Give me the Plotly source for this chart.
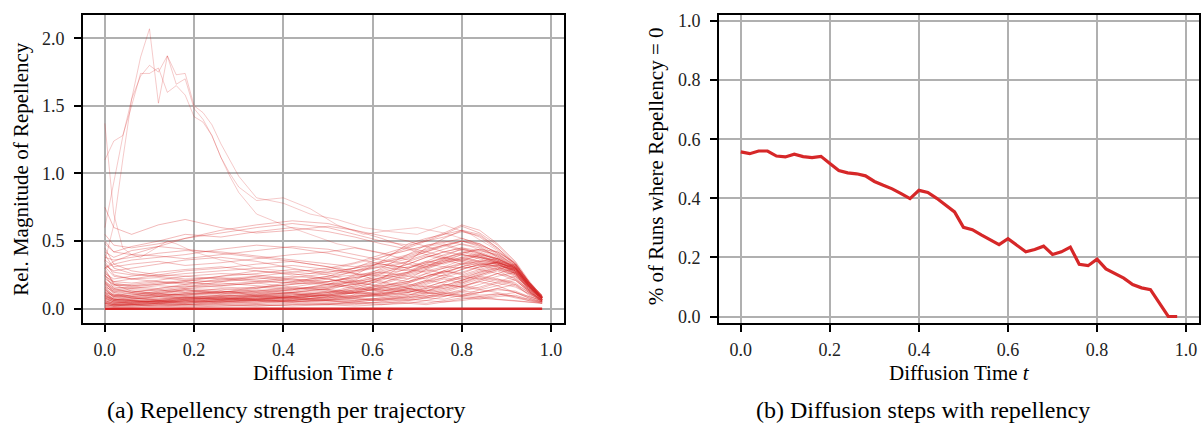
import plotly.graph_objects as go

# ---------------- data ----------------
# (a) per-trajectory repellency magnitude, sampled at these diffusion times
T_RUN = [0.0, 0.02, 0.06, 0.12, 0.18, 0.26, 0.34, 0.42, 0.50, 0.56,
         0.62, 0.68, 0.72, 0.76, 0.80, 0.84, 0.88, 0.92, 0.95, 0.98]

LOW_RUNS = [
    [.05, .03, .03, .04, .05, .05, .06, .05, .06, .07, .06, .08, .10, .09, .12, .10, .11, .09, .07, .05],
    [.10, .06, .05, .06, .07, .08, .07, .09, .08, .10, .12, .15, .13, .18, .16, .20, .17, .12, .09, .06],
    [.15, .08, .07, .08, .09, .08, .10, .11, .09, .07, .06, .09, .12, .11, .14, .18, .22, .19, .12, .07],
    [.03, .02, .02, .03, .03, .04, .04, .05, .04, .05, .07, .06, .08, .10, .09, .12, .14, .13, .09, .06],
    [.20, .12, .09, .10, .11, .10, .09, .08, .10, .13, .11, .14, .18, .22, .19, .24, .28, .22, .14, .08],
    [.08, .05, .04, .04, .03, .04, .05, .07, .06, .04, .05, .07, .06, .09, .13, .16, .20, .24, .16, .08],
    [.12, .07, .06, .05, .06, .07, .06, .05, .07, .09, .12, .10, .14, .12, .16, .21, .26, .30, .18, .09],
    [.06, .04, .05, .06, .08, .07, .09, .10, .12, .11, .13, .16, .20, .25, .22, .27, .31, .26, .15, .07],
    [.25, .15, .12, .10, .08, .07, .06, .06, .05, .06, .08, .07, .09, .11, .10, .14, .17, .21, .13, .06],
    [.04, .03, .03, .02, .03, .03, .02, .03, .04, .03, .05, .04, .06, .05, .07, .09, .11, .08, .06, .04],
    [.18, .11, .08, .07, .08, .09, .11, .12, .10, .09, .10, .12, .15, .17, .21, .25, .29, .33, .20, .10],
    [.09, .06, .07, .09, .11, .12, .10, .08, .07, .09, .11, .14, .12, .15, .18, .22, .19, .16, .11, .06],
    [.30, .18, .13, .11, .10, .09, .08, .09, .11, .14, .17, .20, .24, .28, .25, .29, .33, .28, .17, .08],
    [.02, .02, .03, .03, .04, .06, .08, .10, .12, .15, .13, .17, .21, .19, .23, .27, .30, .25, .15, .07],
    [.14, .09, .10, .12, .14, .13, .12, .11, .13, .12, .15, .18, .16, .20, .24, .28, .32, .29, .18, .09],
    [.07, .05, .04, .05, .04, .05, .06, .05, .07, .08, .07, .09, .08, .11, .13, .12, .15, .12, .08, .05],
    [.11, .07, .06, .07, .09, .08, .07, .09, .10, .08, .10, .13, .17, .15, .19, .23, .21, .17, .11, .06],
    [.02, .01, .01, .02, .02, .02, .03, .02, .03, .04, .03, .05, .04, .06, .08, .07, .09, .10, .07, .04],
    [.16, .10, .08, .06, .05, .06, .07, .08, .06, .05, .07, .10, .13, .16, .20, .24, .22, .18, .12, .06],
    [.05, .03, .03, .04, .05, .07, .09, .08, .10, .12, .15, .19, .23, .27, .31, .29, .26, .21, .13, .06],
    [.09, .07, .08, .10, .12, .11, .13, .15, .14, .12, .10, .08, .11, .14, .17, .20, .24, .27, .16, .07],
    [.04, .02, .02, .02, .01, .02, .02, .03, .03, .02, .03, .04, .03, .05, .06, .08, .10, .12, .08, .05],
    [.02, .02, .02, .03, .02, .03, .03, .04, .03, .05, .04, .06, .08, .07, .10, .12, .15, .18, .10, .05],
    [.08, .05, .05, .06, .05, .07, .06, .08, .07, .06, .08, .11, .09, .13, .17, .15, .19, .22, .12, .05],
    [.10, .07, .06, .05, .06, .08, .07, .06, .08, .10, .09, .12, .16, .20, .24, .22, .26, .23, .13, .05],
    [.06, .04, .04, .05, .04, .06, .05, .07, .06, .08, .11, .15, .13, .17, .21, .25, .29, .25, .14, .06],
    [.04, .03, .03, .04, .06, .05, .07, .06, .09, .12, .10, .15, .19, .23, .21, .26, .30, .26, .14, .06],
]

MID_RUNS = [
    [.22, .18, .17, .19, .21, .20, .22, .24, .22, .19, .17, .20, .24, .27, .31, .34, .33, .27, .17, .08],
    [.35, .25, .22, .20, .18, .19, .17, .15, .16, .18, .22, .26, .30, .34, .37, .35, .33, .26, .16, .07],
    [.28, .20, .19, .21, .24, .26, .25, .22, .19, .16, .14, .17, .21, .25, .29, .33, .34, .30, .19, .09],
    [.18, .14, .15, .17, .16, .18, .20, .19, .23, .25, .27, .24, .28, .31, .30, .32, .34, .31, .20, .10],
    [.40, .30, .26, .24, .22, .23, .21, .19, .18, .20, .23, .27, .32, .36, .40, .38, .35, .28, .17, .08],
    [.12, .10, .12, .15, .18, .22, .24, .21, .18, .15, .13, .16, .20, .23, .27, .31, .32, .29, .18, .08],
    [.26, .22, .24, .27, .29, .31, .28, .25, .27, .30, .33, .30, .34, .37, .35, .33, .32, .28, .18, .09],
    [.33, .27, .25, .24, .26, .28, .30, .32, .29, .26, .24, .27, .31, .35, .38, .41, .36, .28, .17, .07],
    [.16, .13, .14, .13, .15, .14, .16, .18, .20, .23, .26, .29, .27, .30, .33, .35, .34, .30, .19, .09],
    [.45, .33, .28, .25, .24, .22, .20, .23, .26, .28, .31, .35, .39, .37, .41, .44, .39, .30, .18, .08],
    [.24, .20, .22, .25, .28, .30, .33, .35, .31, .26, .20, .15, .12, .10, .09, .08, .07, .06, .05, .04],
    [.32, .28, .30, .33, .36, .38, .35, .30, .25, .20, .16, .13, .11, .12, .10, .09, .07, .06, .05, .04],
    [.19, .15, .16, .18, .20, .24, .28, .26, .22, .18, .14, .12, .15, .18, .16, .14, .12, .09, .06, .05],
    [.13, .09, .08, .09, .08, .10, .09, .11, .08, .12, .18, .24, .22, .28, .33, .30, .35, .27, .15, .07],
    [.21, .14, .12, .14, .12, .15, .13, .16, .14, .19, .25, .22, .29, .34, .38, .35, .37, .29, .16, .07],
    [.17, .12, .13, .11, .14, .12, .16, .14, .18, .22, .28, .33, .30, .35, .40, .37, .33, .28, .16, .08],
    [.11, .08, .09, .11, .10, .13, .11, .14, .17, .21, .19, .25, .29, .26, .31, .36, .34, .30, .17, .07],
    [.27, .19, .17, .18, .20, .17, .19, .22, .20, .24, .29, .35, .31, .37, .42, .38, .34, .29, .16, .07],
    [.14, .10, .11, .09, .11, .13, .10, .12, .15, .18, .23, .20, .26, .30, .34, .32, .29, .24, .13, .06],
    [.19, .13, .11, .12, .14, .11, .13, .12, .14, .13, .16, .19, .24, .28, .26, .31, .35, .32, .18, .08],
    [.23, .17, .18, .20, .19, .21, .23, .20, .24, .27, .31, .28, .33, .38, .35, .40, .37, .31, .17, .07],
    [.12, .09, .10, .13, .15, .17, .19, .16, .20, .23, .27, .31, .35, .33, .37, .40, .37, .31, .17, .08],
]

HIGH_RUNS = [
    [.38, .36, .38, .41, .43, .42, .39, .36, .33, .31, .35, .40, .44, .47, .43, .39, .35, .29, .18, .08],
    [.50, .42, .40, .39, .37, .40, .43, .46, .44, .40, .36, .33, .38, .42, .45, .41, .36, .29, .18, .08],
    [.30, .33, .36, .38, .40, .44, .47, .45, .41, .37, .33, .30, .35, .40, .44, .42, .37, .30, .19, .09],
    [.42, .38, .43, .46, .44, .41, .38, .35, .31, .28, .32, .37, .42, .47, .50, .46, .38, .30, .18, .08],
    [.36, .31, .33, .35, .32, .34, .37, .40, .42, .45, .41, .36, .40, .44, .48, .45, .39, .31, .19, .09],
    [.55, .47, .45, .48, .52, .56, .60, .63, .60, .55, .50, .47, .50, .55, .58, .53, .44, .32, .19, .08],
    [.30, .35, .40, .46, .52, .58, .62, .65, .63, .58, .52, .45, .42, .46, .50, .48, .41, .32, .19, .08],
    [.48, .42, .46, .50, .55, .53, .57, .60, .57, .53, .48, .44, .40, .38, .36, .34, .31, .26, .16, .07],
    [.75, .60, .55, .62, .66, .60, .56, .58, .61, .58, .54, .50, .46, .42, .40, .38, .34, .27, .17, .08],
    [.31, .24, .22, .23, .21, .24, .26, .29, .27, .30, .34, .38, .42, .39, .44, .41, .37, .30, .17, .07],
]

LATE_RUNS = [
    [.06, .04, .04, .05, .06, .05, .07, .08, .10, .14, .22, .35, .45, .52, .58, .55, .45, .33, .20, .08],
    [.10, .07, .06, .07, .08, .10, .12, .14, .18, .25, .35, .48, .52, .55, .61, .56, .47, .34, .20, .08],
    [.15, .10, .09, .11, .13, .12, .15, .20, .24, .30, .38, .45, .50, .53, .57, .54, .45, .33, .19, .07],
    [.04, .03, .04, .06, .07, .09, .10, .12, .15, .21, .30, .40, .47, .49, .52, .48, .41, .31, .18, .07],
    [.20, .16, .15, .14, .16, .20, .24, .27, .30, .34, .40, .46, .51, .56, .62, .58, .48, .35, .21, .09],
    [.08, .06, .07, .09, .10, .12, .14, .13, .16, .20, .26, .33, .38, .42, .45, .43, .40, .32, .19, .08],
    [.25, .18, .16, .15, .17, .16, .15, .18, .22, .28, .34, .39, .43, .47, .50, .47, .42, .33, .20, .09],
    [.05, .04, .05, .05, .07, .08, .07, .09, .12, .17, .23, .30, .34, .38, .41, .44, .42, .34, .20, .08],
    [.07, .05, .06, .05, .07, .06, .08, .07, .11, .16, .21, .27, .33, .31, .36, .39, .34, .26, .14, .06],
    [.03, .02, .03, .04, .03, .05, .04, .06, .09, .13, .19, .26, .31, .36, .33, .38, .36, .30, .17, .07],
    [.09, .06, .05, .06, .08, .07, .10, .09, .13, .11, .16, .22, .26, .24, .29, .33, .31, .27, .15, .06],
]

ZERO_RUN = [0.0] * len(T_RUN)

# the few runs with a strong early burst of repellency
T_BURST = [0.0, 0.02, 0.04, 0.06, 0.08, 0.10, 0.12, 0.14, 0.16, 0.18, 0.20, 0.22, 0.24, 0.26, 0.28,
           0.30, 0.34, 0.40, 0.46, 0.52, 0.58, 0.64, 0.70, 0.76, 0.82, 0.88, 0.92, 0.95, 0.98]
BURST_RUNS = [
    [0.35, 0.62, 1.10, 1.55, 1.86, 2.07, 1.52, 1.87, 1.66, 1.70, 1.48, 1.40, 1.28, 1.12, 0.98,
     0.86, 0.70, 0.62, 0.55, 0.48, 0.44, 0.40, 0.45, 0.50, 0.46, 0.38, 0.30, 0.19, 0.08],
    [1.10, 1.24, 1.28, 1.50, 1.74, 1.74, 1.78, 1.60, 1.65, 1.58, 1.42, 1.38, 1.28, 1.12, 1.00,
     0.90, 0.80, 0.82, 0.74, 0.62, 0.55, 0.58, 0.60, 0.56, 0.50, 0.40, 0.31, 0.19, 0.08],
    [0.60, 0.95, 1.27, 1.55, 1.72, 1.80, 1.75, 1.87, 1.73, 1.74, 1.50, 1.45, 1.36, 1.22, 1.10,
     0.98, 0.82, 0.78, 0.70, 0.66, 0.60, 0.57, 0.55, 0.62, 0.55, 0.43, 0.33, 0.20, 0.08],
    [1.37, 0.70, 0.45, 0.40, 0.38, 0.42, 0.46, 0.50, 0.48, 0.45, 0.42, 0.40, 0.38, 0.36, 0.35,
     0.33, 0.30, 0.28, 0.26, 0.30, 0.35, 0.40, 0.45, 0.48, 0.42, 0.35, 0.28, 0.17, 0.07],
]

# (b) share of runs with zero repellency at each diffusion step
T_STEP = [round(0.02 * i, 2) for i in range(50)]
ZERO_SHARE = [
    0.557, 0.551, 0.560, 0.560, 0.543, 0.540, 0.549, 0.541, 0.538, 0.542,
    0.518, 0.494, 0.486, 0.483, 0.476, 0.457, 0.444, 0.432, 0.416, 0.399,
    0.427, 0.420, 0.400, 0.378, 0.354, 0.302, 0.294, 0.276, 0.259, 0.243,
    0.263, 0.241, 0.219, 0.227, 0.238, 0.210, 0.219, 0.235, 0.177, 0.172,
    0.194, 0.161, 0.146, 0.130, 0.108, 0.097, 0.091, 0.047, 0.000, 0.000,
]

X_TICKS = [0.0, 0.2, 0.4, 0.6, 0.8, 1.0]
Y_TICKS_A = [0.0, 0.5, 1.0, 1.5, 2.0]
Y_TICKS_B = [0.0, 0.2, 0.4, 0.6, 0.8, 1.0]

# ---------------- figure ----------------
W, H = 1202, 430
RED = "#d62728"
RUN_COLOR = "rgba(214,39,40,0.36)"
BURST_COLOR = "rgba(214,39,40,0.28)"
FONT = "Liberation Serif, serif"


def px(x):
    return x / W


def py(y):
    return 1 - y / H


fig = go.Figure()

for runs, tt, col in ((LOW_RUNS, T_RUN, RUN_COLOR), (MID_RUNS, T_RUN, RUN_COLOR),
                      (HIGH_RUNS, T_RUN, RUN_COLOR), (LATE_RUNS, T_RUN, RUN_COLOR),
                      (BURST_RUNS, T_BURST, BURST_COLOR)):
    for r in runs:
        fig.add_trace(go.Scatter(x=tt, y=r, mode="lines", xaxis="x", yaxis="y",
                                 line=dict(color=col, width=0.9),
                                 showlegend=False, hoverinfo="skip"))

fig.add_trace(go.Scatter(x=T_RUN, y=ZERO_RUN, mode="lines", xaxis="x", yaxis="y",
                         line=dict(color=RED, width=2.6), showlegend=False))

fig.add_trace(go.Scatter(x=T_STEP, y=ZERO_SHARE, mode="lines", xaxis="x2", yaxis="y2",
                         line=dict(color=RED, width=3.2), showlegend=False))

axis_common = dict(
    showline=True, linecolor="black", linewidth=1.8, mirror=True,
    showgrid=True, gridcolor="#b0b0b0", gridwidth=1.6, zeroline=False,
    ticks="outside", ticklen=7, tickwidth=1.5, tickcolor="black",
    tickfont=dict(family=FONT, size=18, color="#222"),
)

fig.update_layout(
    width=W, height=H,
    margin=dict(l=0, r=0, t=0, b=0),
    paper_bgcolor="white", plot_bgcolor="white",
    font=dict(family=FONT, color="black"),
    xaxis=dict(domain=[px(83), px(564)], range=[-0.049, 1.029],
               tickvals=X_TICKS, ticktext=[f"{v:.1f}" for v in X_TICKS],
               anchor="y", ticklabelstandoff=3, **axis_common),
    yaxis=dict(domain=[py(325), py(12)], range=[-0.1035, 2.1735],
               tickvals=Y_TICKS_A, ticktext=[f"{v:.1f}" for v in Y_TICKS_A],
               anchor="x", ticklabelstandoff=6, **axis_common),
    xaxis2=dict(domain=[px(719), px(1199)], range=[-0.049, 1.029],
                tickvals=X_TICKS, ticktext=[f"{v:.1f}" for v in X_TICKS],
                anchor="y2", ticklabelstandoff=3, **axis_common),
    yaxis2=dict(domain=[py(325), py(12)], range=[-0.021, 1.021],
                tickvals=Y_TICKS_B, ticktext=[f"{v:.1f}" for v in Y_TICKS_B],
                anchor="x2", ticklabelstandoff=6, **axis_common),
)

labels = [
    dict(text="Diffusion Time <i>t</i>", x=px(323.5), y=py(376), size=21, angle=0),
    dict(text="Diffusion Time <i>t</i>", x=px(959), y=py(376), size=21, angle=0),
    dict(text="Rel. Magnitude of Repellency", x=px(21), y=py(168.5), size=21, angle=-90),
    dict(text="% of Runs where Repellency = 0", x=px(656), y=py(166), size=21, angle=-90),
    dict(text="(a) Repellency strength per trajectory", x=px(286.5), y=py(414), size=24, angle=0),
    dict(text="(b) Diffusion steps with repellency", x=px(922.5), y=py(414), size=24, angle=0),
]
for a in labels:
    fig.add_annotation(text=a["text"], x=a["x"], y=a["y"], xref="paper", yref="paper",
                       xanchor="center", yanchor="middle", showarrow=False,
                       textangle=a["angle"],
                       font=dict(family=FONT, size=a["size"], color="black"))

fig.write_html("out.html")
